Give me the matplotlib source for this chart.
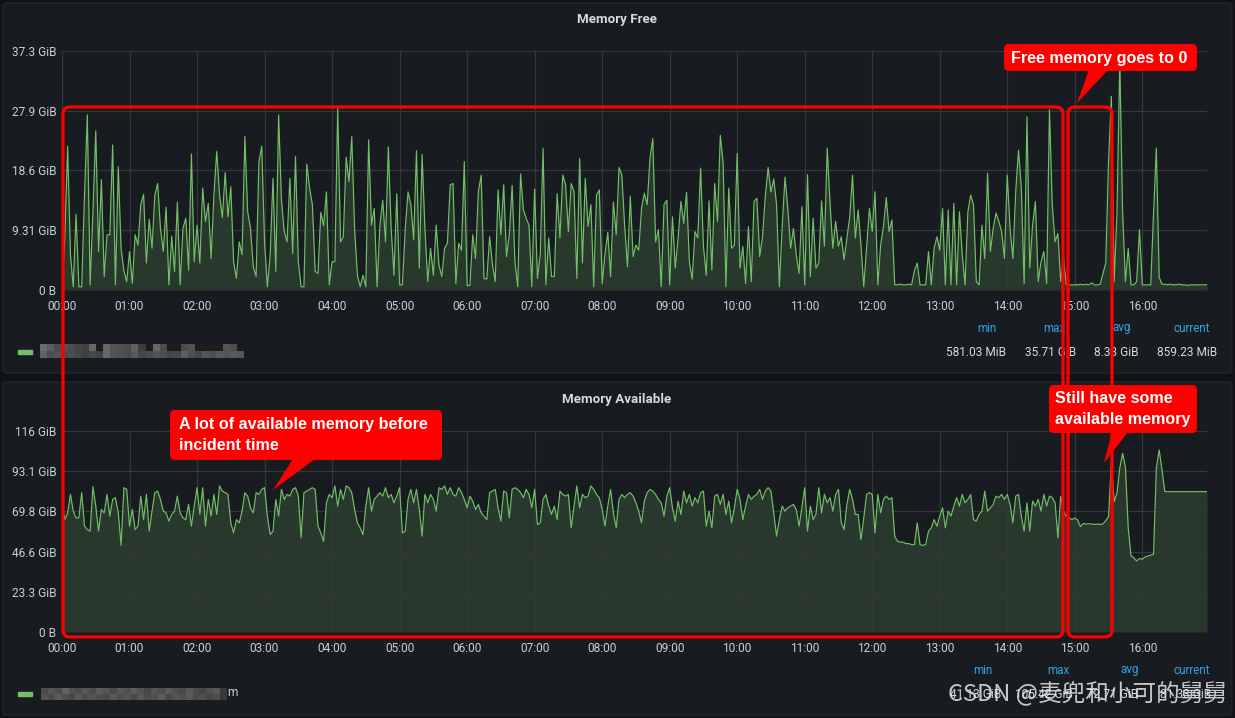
import matplotlib
matplotlib.use("Agg")
import matplotlib.pyplot as plt
import numpy as np
from matplotlib.patches import FancyBboxPatch, Polygon

# ---- data (GiB, one value every 2.5 min from 00:00) ----
memory_free_gib = [
    0.3, 8.1, 22.4, 5.5, 0.5, 11.8, 0.5, 0.5, 14.8, 27.3, 0.8, 12.2, 24.8, 6.0, 17.2, 2.1, 8.6, 8.6, 22.6, 0.8, 19.2, 6.5, 3.0, 1.3,
    6.0, 1.0, 8.6, 7.0, 13.3, 14.9, 4.2, 11.0, 6.5, 14.8, 16.6, 9.6, 6.0, 12.9, 0.8, 8.4, 2.9, 13.7, 0.8, 9.6, 11.2, 3.1, 21.2, 4.4,
    10.1, 4.2, 15.9, 10.7, 13.5, 4.9, 14.8, 21.6, 14.8, 11.3, 18.3, 11.4, 16.1, 4.4, 1.8, 7.5, 5.5, 23.9, 12.2, 9.6, 3.6, 2.1, 20.0, 22.4,
    7.5, 0.5, 5.5, 17.4, 2.9, 27.3, 14.0, 9.1, 7.5, 17.4, 5.7, 20.8, 4.4, 0.5, 0.5, 19.6, 15.9, 13.3, 2.9, 2.6, 12.1, 10.0, 15.3, 0.8,
    4.4, 4.4, 28.3, 7.5, 8.3, 20.7, 16.9, 23.9, 9.6, 2.3, 0.5, 2.3, 0.5, 23.4, 10.1, 12.7, 0.5, 10.1, 14.0, 7.5, 22.3, 9.6, 2.3, 15.0,
    0.8, 0.8, 9.4, 15.3, 13.3, 7.8, 21.7, 3.4, 21.1, 9.6, 1.3, 6.5, 2.3, 10.1, 3.9, 2.1, 6.5, 7.3, 16.4, 16.6, 1.0, 7.3, 6.2, 20.0,
    0.7, 0.7, 8.6, 4.9, 15.3, 17.9, 1.8, 1.7, 8.3, 4.0, 1.3, 15.6, 8.6, 16.4, 5.2, 8.6, 16.3, 4.4, 0.5, 18.1, 12.5, 11.2, 10.1, 0.5,
    15.7, 1.8, 5.5, 22.1, 0.8, 8.1, 2.1, 2.1, 15.0, 8.1, 17.9, 16.4, 9.1, 16.6, 15.3, 1.8, 20.5, 4.2, 17.4, 9.9, 13.3, 0.5, 14.8, 15.6,
    1.0, 5.5, 9.0, 2.1, 13.7, 8.6, 19.1, 17.9, 10.0, 3.6, 14.6, 5.2, 7.0, 6.2, 12.7, 15.1, 13.3, 20.5, 23.6, 7.5, 9.4, 0.5, 13.3, 14.0,
    0.8, 11.4, 3.4, 8.1, 13.8, 10.4, 15.2, 4.4, 1.7, 9.1, 8.1, 19.0, 6.8, 2.3, 13.9, 3.1, 16.6, 10.7, 24.1, 19.8, 0.5, 15.9, 6.5, 7.0,
    21.3, 3.4, 6.8, 1.0, 9.9, 1.3, 13.8, 14.3, 5.2, 8.3, 14.6, 19.1, 15.3, 17.3, 13.3, 0.5, 9.9, 17.6, 12.7, 6.5, 9.6, 5.5, 2.6, 13.0,
    0.8, 18.0, 2.1, 11.2, 3.4, 4.2, 13.9, 6.8, 22.1, 13.5, 6.5, 10.7, 6.8, 8.3, 4.7, 8.1, 11.4, 17.9, 8.1, 12.5, 7.0, 0.5, 6.5, 12.7,
    9.1, 15.3, 0.8, 7.0, 9.9, 14.4, 9.1, 10.9, 0.8, 0.8, 0.9, 0.8, 0.8, 0.9, 0.8, 3.0, 4.2, 0.8, 0.8, 0.8, 6.0, 0.8, 6.5, 8.3,
    6.2, 12.7, 0.8, 12.5, 0.8, 13.5, 0.8, 12.2, 5.5, 0.8, 12.2, 14.8, 13.3, 1.3, 0.8, 10.1, 4.9, 18.2, 6.0, 9.6, 12.0, 10.7, 9.1, 4.9,
    17.9, 9.6, 4.9, 15.3, 21.8, 15.9, 1.0, 27.0, 3.4, 10.1, 13.8, 1.3, 4.4, 6.0, 1.0, 28.1, 13.3, 7.5, 8.8, 1.3, 4.9, 0.8, 0.8, 0.8,
    0.8, 0.8, 0.9, 0.8, 0.9, 0.8, 1.1, 0.8, 0.8, 0.9, 2.5, 4.2, 20.0, 30.2, 1.3, 12.0, 35.7, 12.2, 1.3, 6.5, 0.8, 0.8, 1.3, 9.4,
    0.8, 0.8, 0.8, 0.8, 12.0, 22.1, 2.0, 0.9, 0.9, 0.8, 0.9, 0.8, 0.8, 0.9, 0.8, 0.8, 0.7, 0.8, 0.8, 0.8, 0.8, 0.8, 0.8, 0.84,
]

memory_available_gib = [
    74.8, 65.1, 69.0, 79.7, 70.0, 66.1, 66.1, 80.7, 61.3, 59.3, 58.4, 84.2, 72.9, 58.4, 71.0, 69.0, 79.7, 67.1, 76.8, 77.8, 69.0, 50.2, 83.6, 82.6,
    61.3, 71.0, 59.3, 61.3, 78.7, 65.1, 79.7, 58.4, 70.0, 80.7, 81.6, 76.8, 70.0, 69.0, 64.2, 68.1, 70.0, 78.7, 69.0, 66.1, 65.1, 73.9, 61.3, 72.9,
    83.6, 68.1, 83.6, 61.3, 76.8, 67.1, 79.7, 68.1, 84.6, 81.6, 80.7, 79.7, 63.2, 57.4, 65.1, 63.2, 70.0, 80.7, 78.7, 71.9, 69.0, 80.7, 79.7, 82.6,
    83.6, 67.1, 56.4, 58.4, 76.8, 67.1, 82.6, 76.8, 79.7, 78.7, 82.6, 83.6, 78.7, 54.5, 80.7, 81.6, 82.6, 83.6, 82.6, 61.3, 57.4, 52.5, 74.8, 79.7,
    77.8, 84.6, 72.9, 82.6, 76.8, 84.6, 83.6, 80.7, 71.0, 63.2, 60.3, 56.4, 72.9, 83.6, 70.0, 76.8, 78.7, 80.7, 78.7, 83.6, 77.8, 79.7, 74.8, 78.7,
    83.6, 57.4, 58.4, 76.8, 82.6, 74.8, 82.6, 71.0, 55.5, 79.7, 74.8, 79.7, 76.8, 70.0, 83.6, 82.6, 84.6, 79.7, 83.6, 79.7, 78.7, 83.6, 80.7, 76.8,
    71.9, 78.7, 75.8, 71.0, 73.9, 69.0, 67.1, 65.1, 80.7, 81.6, 82.6, 71.9, 64.2, 81.6, 80.7, 66.1, 82.6, 83.6, 82.6, 80.7, 77.8, 82.6, 79.7, 72.0,
    82.6, 62.2, 63.2, 76.8, 79.7, 72.9, 68.1, 72.9, 65.1, 81.6, 79.7, 78.7, 79.7, 60.3, 72.9, 84.6, 71.9, 79.7, 77.8, 78.7, 84.6, 82.6, 79.7, 77.8,
    71.0, 61.3, 72.9, 82.6, 69.0, 60.3, 76.8, 79.7, 77.8, 79.7, 80.7, 78.7, 74.8, 70.0, 63.2, 75.8, 80.7, 82.6, 81.6, 79.7, 76.8, 74.8, 67.1, 78.7,
    83.6, 71.9, 64.2, 75.8, 68.1, 81.6, 74.8, 79.7, 72.9, 77.8, 74.8, 80.7, 81.6, 61.3, 70.0, 60.3, 78.7, 79.7, 73.9, 79.7, 68.1, 75.8, 63.2, 71.9,
    82.6, 76.8, 65.1, 72.9, 79.7, 76.8, 78.7, 79.7, 82.6, 76.8, 81.6, 83.6, 81.6, 69.0, 55.5, 65.1, 72.9, 70.0, 71.9, 72.9, 73.9, 71.0, 61.3, 71.9,
    83.6, 58.4, 72.9, 65.1, 68.1, 83.6, 69.0, 79.7, 74.8, 77.8, 70.0, 79.7, 82.6, 63.2, 59.3, 73.9, 82.6, 76.8, 68.1, 68.1, 53.5, 66.1, 79.7, 80.7,
    79.7, 57.4, 79.7, 69.0, 76.8, 78.7, 76.8, 77.8, 55.5, 52.5, 52.1, 52.0, 51.2, 51.2, 50.6, 50.6, 63.2, 50.6, 50.2, 50.6, 58.4, 60.3, 65.1, 61.3,
    67.1, 71.9, 60.3, 70.0, 67.1, 72.9, 77.8, 72.9, 79.7, 74.8, 76.8, 79.7, 65.1, 64.2, 68.1, 70.0, 81.6, 70.0, 71.9, 73.9, 78.7, 77.8, 79.7, 76.8,
    79.7, 73.9, 63.2, 78.7, 79.7, 67.1, 58.4, 74.8, 58.4, 75.8, 72.9, 76.8, 70.0, 79.7, 72.9, 78.7, 77.8, 74.8, 54.5, 78.7, 70.0, 67.1, 66.1, 65.1,
    66.0, 64.9, 61.0, 62.9, 62.5, 62.7, 62.5, 62.3, 62.5, 62.3, 62.6, 64.5, 66.8, 97.9, 75.5, 80.3, 95.0, 103.4, 95.7, 60.0, 44.0, 43.0, 41.1, 42.5,
    42.2, 43.5, 44.0, 44.5, 45.0, 95.0, 105.4, 94.0, 81.3, 81.3, 81.3, 81.3, 81.3, 81.3, 81.3, 81.3, 81.3, 81.3, 81.3, 81.3, 81.3, 81.3, 81.3, 81.3,
]

step_minutes = 2.5
hour_ticks = list(range(17))
hour_labels = ["%02d:00" % h for h in hour_ticks]

free_ticks = [0, 9.31, 18.63, 27.94, 37.25]
free_tick_labels = ["0 B", "9.31 GiB", "18.6 GiB", "27.9 GiB", "37.3 GiB"]
avail_ticks = [0, 23.28, 46.57, 69.85, 93.13, 116.42]
avail_tick_labels = ["0 B", "23.3 GiB", "46.6 GiB", "69.8 GiB", "93.1 GiB", "116 GiB"]

stat_names = ["min", "max", "avg", "current"]
free_stats = ["581.03 MiB", "35.71 GiB", "8.33 GiB", "859.23 MiB"]
avail_stats = ["41.13 GiB", "105.42 GiB", "72.71 GiB", "81.33 GiB"]

# ---- style ----
W, H = 1235, 718
BG = "#111217"
PANEL = "#181b1f"
GRID = "#34373c"
GREEN = "#73bf69"
TXT = "#c7d0d9"
BLUE = "#33a2e5"
RED = "#ff0000"
FONT = ["Roboto", "DejaVu Sans"]

plt.rcParams["font.family"] = FONT

fig = plt.figure(figsize=(W / 100, H / 100), dpi=100, facecolor=BG)


def frac(x0, y0, x1, y1):
    # pixel box (top-left origin) -> figure fraction rect
    return [x0 / W, 1 - y1 / H, (x1 - x0) / W, (y1 - y0) / H]


# background layer with the two panels
bg = fig.add_axes([0, 0, 1, 1])
bg.set_xlim(0, W)
bg.set_ylim(H, 0)
bg.axis("off")
bg.set_zorder(0)
for (y0, y1) in [(3, 373), (382, 715)]:
    bg.add_patch(FancyBboxPatch((3, y0), 1229, y1 - y0, boxstyle="round,pad=0,rounding_size=3",
                                fc=PANEL, ec="#23262b", lw=1))


def draw_panel(rect, values, ticks, tick_labels, title, title_y):
    ax = fig.add_axes(rect)
    ax.set_zorder(1)
    ax.patch.set_visible(False)
    t = np.arange(len(values)) * step_minutes / 60.0
    ax.fill_between(t, values, 0, color=GREEN, alpha=0.18, lw=0)
    ax.plot(t, values, color=GREEN, lw=0.85)
    ax.set_xlim(0, t[-1])
    ax.set_ylim(0, ticks[-1])
    ax.set_xticks(hour_ticks)
    ax.set_xticklabels(hour_labels)
    ax.set_yticks(ticks)
    ax.set_yticklabels(tick_labels)
    ax.tick_params(length=0, labelsize=8.6, colors=TXT)
    ax.tick_params(axis="x", pad=7)
    ax.tick_params(axis="y", pad=4)
    ax.grid(True, color=GRID, lw=0.9)
    for s in ax.spines.values():
        s.set_visible(False)
    bg.text(617, title_y, title, ha="center", va="center", color="#d8d9da",
            fontsize=9.6, fontweight="bold", family=FONT)
    return ax


ax1 = draw_panel(frac(62, 51, 1207, 290), memory_free_gib, free_ticks, free_tick_labels, "Memory Free", 19)
ax2 = draw_panel(frac(62, 431, 1207, 632), memory_available_gib, avail_ticks, avail_tick_labels, "Memory Available", 399)

# legends
top_head_x = [997, 1066, 1131, 1210]
top_val_x = [1006, 1076, 1139, 1217]
bot_head_x = [993, 1069, 1139, 1210]
bot_val_x = [1001, 1073, 1138, 1211]
for name, hx in zip(stat_names, top_head_x):
    bg.text(hx, 328, name, ha="right", va="center", color=BLUE, fontsize=8.4)
for v, vx in zip(free_stats, top_val_x):
    bg.text(vx, 352, v, ha="right", va="center", color="#d8d9da", fontsize=8.6)
for name, hx in zip(stat_names, bot_head_x):
    bg.text(hx, 670, name, ha="right", va="center", color=BLUE, fontsize=8.4)
for v, vx in zip(avail_stats, bot_val_x):
    bg.text(vx, 694, v, ha="right", va="center", color="#d8d9da", fontsize=8.6)

# legend markers + pixelated (blurred) series names
bg.add_patch(plt.Rectangle((18, 350), 14, 4, color=GREEN))
bg.add_patch(plt.Rectangle((18, 692), 14, 4, color=GREEN))
mosaic_top = np.array([
    [0.42, 0.36, 0.30, 0.33, 0.30, 0.27, 0.25, 0.40, 0.11, 0.40, 0.33, 0.32, 0.30, 0.38, 0.24, 0.11, 0.40, 0.30, 0.11, 0.11, 0.30, 0.32, 0.11, 0.11, 0.11, 0.11, 0.33, 0.30, 0.11],
    [0.38, 0.30, 0.33, 0.28, 0.30, 0.27, 0.25, 0.28, 0.26, 0.40, 0.33, 0.32, 0.30, 0.35, 0.28, 0.30, 0.33, 0.31, 0.27, 0.29, 0.37, 0.31, 0.28, 0.34, 0.31, 0.35, 0.33, 0.36, 0.34],
])
mosaic_bot = np.array([
    [0.30, 0.34, 0.30, 0.38, 0.32, 0.30, 0.34, 0.30, 0.36, 0.33, 0.29, 0.34, 0.31, 0.36, 0.32, 0.28, 0.33, 0.30, 0.35, 0.31, 0.29, 0.34, 0.30, 0.28, 0.31, 0.34, 0.22],
    [0.33, 0.30, 0.36, 0.31, 0.28, 0.35, 0.30, 0.33, 0.31, 0.29, 0.35, 0.30, 0.33, 0.28, 0.34, 0.30, 0.31, 0.36, 0.29, 0.33, 0.31, 0.35, 0.29, 0.32, 0.28, 0.30, 0.22],
])
bg.imshow(mosaic_top, cmap="gray", vmin=0, vmax=1, interpolation="nearest",
          extent=(40, 244, 358, 344), aspect="auto", zorder=2)
bg.imshow(mosaic_bot, cmap="gray", vmin=0, vmax=1, interpolation="nearest",
          extent=(41, 227, 700, 688), aspect="auto", zorder=2)
bg.text(227, 693, "m", ha="left", va="center", color=TXT, fontsize=8.6)
bg.set_xlim(0, W)
bg.set_ylim(H, 0)

# ---- annotation overlay ----
ov = fig.add_axes([0, 0, 1, 1])
ov.set_xlim(0, W)
ov.set_ylim(H, 0)
ov.axis("off")
ov.set_zorder(3)
ov.patch.set_visible(False)

# red outline boxes
for (x0, y0, x1, y1) in [(63, 107, 1063, 637), (1068, 107, 1112, 637)]:
    ov.add_patch(FancyBboxPatch((x0, y0), x1 - x0, y1 - y0, boxstyle="round,pad=0,rounding_size=7",
                                fill=False, ec=RED, lw=2.3))

CALLOUT = dict(color="white", fontsize=11.6, fontweight="bold", family=["Liberation Sans", "DejaVu Sans"],
               ha="left", va="center", linespacing=1.42)


def callout(box, tri, lines, text_x, text_y):
    x0, y0, x1, y1 = box
    ov.add_patch(FancyBboxPatch((x0, y0), x1 - x0, y1 - y0, boxstyle="round,pad=0,rounding_size=5",
                                fc=RED, ec="none"))
    ov.add_patch(Polygon(tri, closed=True, fc=RED, ec="none"))
    ov.text(text_x, text_y, lines, **CALLOUT)


callout((1004, 44, 1197, 71), [(1089, 70), (1108, 70), (1077, 103)],
        "Free memory goes to 0", 1011, 58)
callout((170, 410, 442, 460), [(293, 459), (315, 459), (273, 490)],
        "A lot of available memory before\nincident time", 179, 435)
callout((1049, 385, 1197, 433), [(1112, 432), (1128, 432), (1104, 463)],
        "Still have some\navailable memory", 1055, 409)

# watermark
ov.text(948, 694, "CSDN @麦兜和小可的舅舅", ha="left", va="center", color="#e6e6e6", alpha=0.85,
        fontsize=17, family=["Noto Sans CJK SC", "DejaVu Sans"])

fig.savefig("out.png", dpi=100, facecolor=BG)
